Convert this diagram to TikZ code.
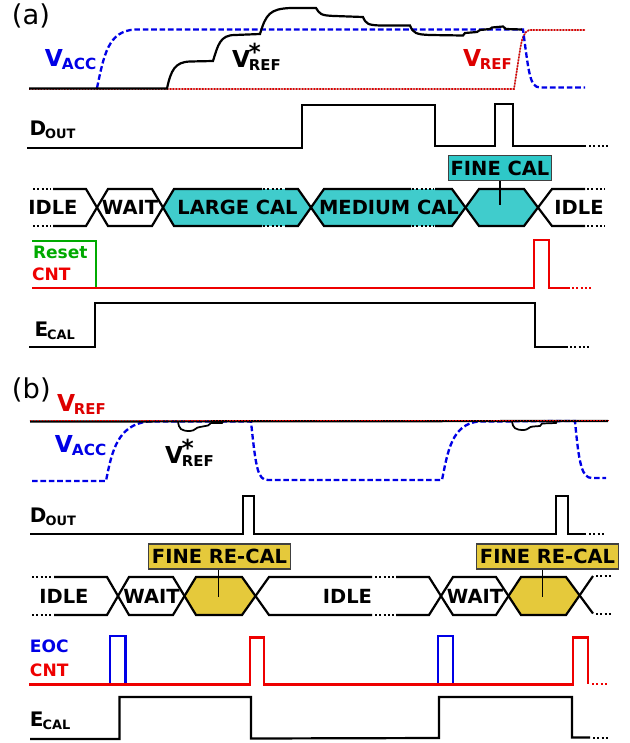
\documentclass[tikz,border=0pt]{standalone}
\usepackage{fontspec}
\setmainfont{DejaVu Sans}
\definecolor{tealfill}{HTML}{40CCCC}
\definecolor{tealbox}{HTML}{2EC8C8}
\definecolor{goldfill}{HTML}{E5C93B}
\definecolor{sigblue}{HTML}{0000E6}
\definecolor{siggreen}{HTML}{00AA00}
\definecolor{sigred}{HTML}{EE0000}
\definecolor{refred}{HTML}{DD0000}
\newcommand{\bigsub}[4]{{\fontsize{#3}{#3}\selectfont\bfseries #1}\kern-0.8pt\raisebox{-2.6pt}{\fontsize{#4}{#4}\selectfont\bfseries #2}}
\newcommand{\starsub}{{\fontsize{17.5}{17.5}\selectfont\bfseries V}\kern-0.8pt\rlap{\kern-0.2pt\raisebox{4.6pt}{\fontsize{17.5}{17.5}\selectfont\bfseries *}}\raisebox{-2.6pt}{\fontsize{11.2}{11.2}\selectfont\bfseries REF}}
\tikzset{
  x=0.75pt,y=-0.75pt,
  wire/.style={line width=1.65pt,line join=miter},
  thinwire/.style={line width=1.65pt},
  dotsline/.style={line width=1.5pt,dash pattern=on 1.6pt off 1.6pt},
  dashline/.style={sigblue,line width=1.75pt,dash pattern=on 4.2pt off 2.1pt},
  refdots/.style={refred,line width=1.2pt,dash pattern=on 1.1pt off 1.1pt},
  reffaint/.style={line width=1pt,draw=refred!45!gray!70},
  lab/.style={anchor=base west,inner sep=0pt,outer sep=0pt},
  buslabel/.style={inner sep=0pt,font=\fontsize{14.6}{15}\selectfont\bfseries},
  sublabel/.style={lab,font=\fontsize{12.8}{13}\selectfont\bfseries},
  panel/.style={lab,font=\fontsize{20.5}{21}\selectfont},
  callout/.style={draw=black!75,line width=1.1pt,inner sep=0pt,minimum height=18.75pt,font=\fontsize{14.6}{15}\selectfont\bfseries},
  stem/.style={line width=1.3pt}
}
\begin{document}
\begin{tikzpicture}
\useasboundingbox (0,0) rectangle (629,743);
% ---------- panel (a) ----------
\node[panel] (pa) at (12,24) {(a)};
\node[lab,text=sigblue] (vacc) at (45,66) {\bigsub{V}{ACC}{17.5}{11.5}};
\node[lab] (vstar) at (232,67) {\starsub};
\node[lab,text=refred] (vref) at (463,66) {\bigsub{V}{REF}{17.5}{11.2}};
\node[lab] (douta) at (29.5,135) {\bigsub{D}{OUT}{15}{9.7}};
% reference
\draw[reffaint] (165,89) -- (514,89) -- (520,50) .. controls (522,38) and (524,32) .. (529,30) -- (585,30);
\draw[refdots] (29,89) -- (514,89) -- (520,50) .. controls (522,38) and (524,32) .. (529,30) -- (585,30);
% V_ACC
\draw[dashline] (97,88) .. controls (104,55) and (108,31) .. (135,29.5) -- (523,29.5) .. controls (529,75) and (530,87) .. (540,87.5) -- (585,87.5);
% V_REF*
\draw[wire] (29,88.5) -- (167,88.5) .. controls (171,70) and (175,62) .. (190,61.5) -- (213,61)
 .. controls (218,45) and (220,35) .. (235,35) -- (260,34) .. controls (266,14) and (270,9) .. (290,8) -- (316,8)
 .. controls (320,14) and (320,15.5) .. (335,16) -- (363,17) .. controls (366,24) and (368,25) .. (380,25.5) -- (410,25.5)
 .. controls (413,33) and (416,34.5) .. (430,35) -- (463,35.5) -- (465,33) -- (477,32) -- (480,30) -- (490,29) -- (492,27.5) -- (503,26.5) -- (506,29) -- (522,29.5);
% D_OUT
\draw[wire] (27,148) -- (302,148) -- (302,105) -- (435,105) -- (435,146) -- (495,146) -- (495,104) -- (513,104) -- (513,146) -- (586,146);
\draw[dotsline] (589,146) -- (609,146);
% bus
\fill[tealfill] (163,207) -- (174,189) -- (298,189) -- (311,207) -- (298,226) -- (174,226) -- cycle;
\fill[tealfill] (311,207) -- (324,189) -- (452,189) -- (465,207) -- (452,226) -- (324,226) -- cycle;
\fill[tealfill] (465,207) -- (479,189) -- (524,189) -- (537,207) -- (524,226) -- (479,226) -- cycle;
\draw[dotsline] (33,189) -- (51,189) (33,226) -- (51,226);
\draw[wire] (53,189) -- (86,189) -- (108,226) -- (152,226) -- (174,189) -- (262,189);
\draw[wire] (53,226) -- (86,226) -- (108,189) -- (152,189) -- (174,226) -- (262,226);
\draw[dotsline] (263,189) -- (284,189) (263,226) -- (284,226);
\draw[wire] (285,189) -- (298,189) -- (324,226) -- (411,226);
\draw[wire] (285,226) -- (298,226) -- (324,189) -- (411,189);
\draw[dotsline] (412,189) -- (434,189) (412,226) -- (434,226);
\draw[wire] (435,189) -- (452,189) -- (479,226) -- (524,226) -- (552,189) -- (585,189);
\draw[wire] (435,226) -- (452,226) -- (479,189) -- (524,189) -- (552,226) -- (585,226);
\draw[dotsline] (587,189) -- (605,189) (587,226) -- (605,226);
\node[buslabel] (idlea) at (53,207) {IDLE};
\node[buslabel] (waita) at (130,207) {WAIT};
\node[buslabel] (large) at (237.5,207) {LARGE CAL};
\node[buslabel] (medium) at (389,207) {MEDIUM CAL};
\node[buslabel] (idleb) at (579,207) {IDLE};
\node[callout,fill=tealbox,minimum width=77pt] (finecal) at (500,168) {FINE CAL};
\coordinate (fineend) at (500,205);
\draw[stem] (finecal.south) -- (fineend);
% Reset / CNT
\node[sublabel,text=siggreen] (reset) at (33,258.5) {Reset};
\node[sublabel,text=sigred] (cnta) at (32,280) {CNT};
\draw[siggreen,thinwire] (32,241) -- (96,241) -- (96,288);
\draw[sigred,thinwire] (32,288) -- (534,288) -- (534,240) -- (549,240) -- (549,288) -- (570,288);
\draw[sigred,dotsline] (572,288) -- (592,288);
% E_CAL
\node[lab] (ecala) at (34.5,336) {\bigsub{E}{CAL}{15}{9.7}};
\draw[thinwire] (29,347) -- (95,347) -- (95,303) -- (535,303) -- (535,347) -- (568,347);
\draw[dotsline] (570,347) -- (590,347);
% ---------- panel (b) ----------
\node[panel] (pb) at (12,398) {(b)};
\node[lab,text=refred] (vrefb) at (57,411) {\bigsub{V}{REF}{17.5}{11.2}};
\node[lab,text=sigblue] (vaccb) at (55,452) {\bigsub{V}{ACC}{17.5}{11.5}};
\node[lab] (vstarb) at (165,463) {\starsub};
\node[lab] (doutb) at (30,522) {\bigsub{D}{OUT}{15}{9.7}};
% V_ACC
\draw[dashline] (32,481) -- (106,481) .. controls (112,450) and (118,425) .. (148,421.5) -- (251,421.5) .. controls (256,470) and (258,480) .. (268,480) -- (442,480) .. controls (448,450) and (452,425) .. (478,421.5) -- (575,421) .. controls (579,465) and (582,478) .. (592,478) -- (606,478);
% V_REF* and V_REF
\draw[wire] (30,421.5) -- (608,421);
\draw[refdots] (30,420.5) -- (609,420.5);
\draw[wire,line width=1.3pt] (178,421.5) .. controls (179,429) and (181,431) .. (190,431) .. controls (195,431) and (196,427) .. (200,427) -- (208,425.5) -- (211,423) -- (222,423) -- (223,421.5);
\draw[wire,line width=1.3pt] (512,421.5) .. controls (513,428) and (515,430) .. (524,430) .. controls (528,430) and (529,426.5) .. (533,426.5) -- (540,426) -- (542,423.5) -- (556,423) -- (557,421);
% D_OUT
\draw[wire] (30,534) -- (243,534) -- (243,496) -- (254,496) -- (254,534) -- (556,534) -- (556,496) -- (568,496) -- (568,534) -- (586,534);
\draw[dotsline] (589,534) -- (606,534);
% bus
\fill[goldfill] (184,596) -- (196,577) -- (242,577) -- (255,596) -- (242,615) -- (196,615) -- cycle;
\fill[goldfill] (508,596) -- (521,577) -- (566,577) -- (579,596) -- (566,615) -- (521,615) -- cycle;
\draw[dotsline] (32,577) -- (51,577) (32,615) -- (51,615);
\draw[wire] (54,577) -- (107,577) -- (129,615) -- (173,615) -- (196,577) -- (242,577) -- (269,615) -- (372,615);
\draw[wire] (54,615) -- (107,615) -- (129,577) -- (173,577) -- (196,615) -- (242,615) -- (269,577) -- (372,577);
\draw[dotsline] (375,577) -- (395,577) (375,615) -- (395,615);
\draw[wire] (396,577) -- (429,577) -- (453,615) -- (496,615) -- (521,577) -- (566,577) -- (593,613.5);
\draw[wire] (396,615) -- (429,615) -- (453,577) -- (496,577) -- (521,615) -- (566,615) -- (593,576);
\draw[dotsline] (596,576) -- (612,576) (596,613.5) -- (612,613.5);
\node[buslabel] (idlec) at (64,596) {IDLE};
\node[buslabel] (waitb) at (151.5,596) {WAIT};
\node[buslabel] (idled) at (347.5,596) {IDLE};
\node[buslabel] (waitc) at (475,596) {WAIT};
\node[callout,fill=goldfill,minimum width=106.5pt] (recala) at (219.5,556.5) {FINE RE-CAL};
\node[callout,fill=goldfill,minimum width=106.5pt] (recalb) at (547.5,556.5) {FINE RE-CAL};
\coordinate (recalaend) at (218.5,597);
\coordinate (recalbend) at (542.5,597);
\draw[stem] (recalaend |- recala.south) -- (recalaend);
\draw[stem] (recalbend |- recalb.south) -- (recalbend);
% EOC / CNT
\node[sublabel,text=sigblue] (eoc) at (30,652.5) {EOC};
\node[sublabel,text=sigred] (cntb) at (30,676) {CNT};
\draw[sigblue,thinwire] (110,684) -- (110,636) -- (125.5,636) -- (125.5,684);
\draw[sigblue,thinwire] (438,684) -- (438,636) -- (453,636) -- (453,684);
\draw[sigred,thinwire] (29,684.5) -- (250,684.5) -- (250,637.5) -- (264,637.5) -- (264,684.5) -- (573,684.5) -- (573,637.5) -- (588,637.5) -- (588,684);
\draw[sigred,dotsline] (592,684) -- (608,684);
% E_CAL
\node[lab] (ecalb) at (30,726) {\bigsub{E}{CAL}{15}{9.7}};
\draw[thinwire] (30,739) -- (119.5,739) -- (119.5,697) -- (251,697) -- (251,738.5) -- (439,738) -- (439,697) -- (572,697) -- (572,737.5) -- (590,737.5);
\draw[dotsline] (593,737.5) -- (608,737.5);
\end{tikzpicture}
\end{document}
